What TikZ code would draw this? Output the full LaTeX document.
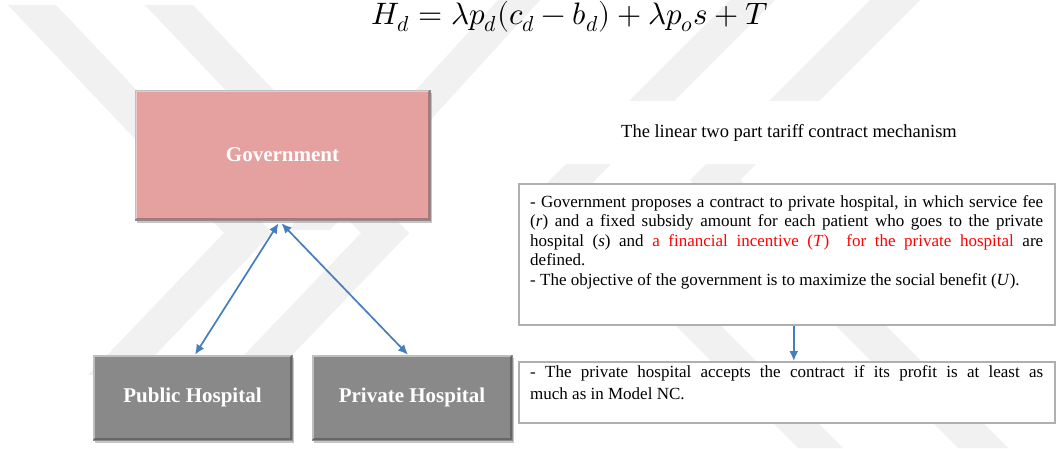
\documentclass[tikz,border=0pt]{standalone}
\usepackage{fontspec}
\setmainfont{Liberation Serif}
\usepackage{unicode-math}
\setmathfont{Latin Modern Math}
\usetikzlibrary{arrows.meta,shadows}

\definecolor{govpink}{RGB}{229,160,160}
\definecolor{hospgray}{RGB}{137,137,137}
\definecolor{linkblue}{RGB}{70,125,190}
\definecolor{framegray}{RGB}{175,175,175}
\definecolor{wmgray}{RGB}{241,241,241}

\tikzset{
  bevelbox/.style={rectangle, draw=black!45, line width=0.6pt,
    drop shadow={shadow xshift=2pt, shadow yshift=-2.5pt, opacity=0.45},
    text=white, inner sep=0pt,
    font=\fontsize{21}{24}\selectfont\bfseries},
  textframe/.style={rectangle, draw=framegray, line width=1.6pt, fill=white,
    anchor=north west, inner sep=0pt},
  bodytext/.style={anchor=north west, inner sep=0pt, align=justify,
    text width=513pt},
  link/.style={draw=linkblue, line width=1.7pt,
    {Latex[length=10pt,width=9pt]}-{Latex[length=10pt,width=9pt]}},
  flow/.style={draw=linkblue, line width=1.7pt, -{Latex[length=10pt,width=9pt]}},
  wmband/.style={fill=wmgray},
}

\begin{document}
\begin{tikzpicture}[x=1pt,y=-1pt]
  \useasboundingbox (0,0) rectangle (1057,448);
  \fill[white] (0,0) rectangle (1057,448);

  % faint chevron watermark behind everything
  \foreach \dx in {0,137}{
    \fill[wmband] (8+\dx,5) -- (56+\dx,5) -- (272+\dx,233) -- (136+\dx,375)
      -- (88+\dx,375) -- (224+\dx,233) -- cycle;
  }
  \foreach \xv/\yv/\w in {540/190/45, 690/180/50}{
    \fill[wmband] (\xv+\yv,0) -- (\xv+\w+\yv,0) -- (\xv+\w,\yv)
      -- (\xv+\w+448-\yv,448) -- (\xv+448-\yv,448) -- (\xv,\yv) -- cycle;
  }
  \fill[wmband] (498,0) -- (540,0) -- (330,230) -- (288,230) -- cycle;

  % formula at the top
  \node[anchor=base, font=\fontsize{31}{36}\selectfont] (eq) at (570,24)
    {$H_d = \lambda p_d(c_d - b_d) + \lambda p_o s + T$};

  % actors
  \node[bevelbox, fill=govpink, minimum width=295pt, minimum height=130pt]
    (gov) at (282.5,155) {Government};
  \node[bevelbox, fill=hospgray, minimum width=199pt, minimum height=85pt]
    (pub) at (192.5,397.5) {Public Hospital};
  \node[bevelbox, fill=hospgray, minimum width=200pt, minimum height=85pt]
    (priv) at (412,397.5) {Private Hospital};

  % bevel highlights on the boxes
  \foreach \b in {gov,pub,priv}{
    \draw[white, opacity=0.45, line width=1.5pt]
      ([xshift=1.5pt,yshift=1.5pt]\b.south west) -- ([xshift=1.5pt,yshift=-1.5pt]\b.north west)
      -- ([xshift=-1.5pt,yshift=-1.5pt]\b.north east);
    \draw[black, opacity=0.25, line width=1.5pt]
      ([xshift=-1.5pt,yshift=-1.5pt]\b.north east) -- ([xshift=-1.5pt,yshift=1.5pt]\b.south east)
      -- ([xshift=1.5pt,yshift=1.5pt]\b.south west);
  }

  % mechanism title
  \node[rectangle, fill=white, anchor=north west, minimum width=536pt,
        minimum height=63pt, inner sep=0pt] (title) at (521,101) {};
  \node[anchor=base, font=\fontsize{18.5}{22}\selectfont] (titletext) at (789,137)
    {The linear two part tariff contract mechanism};

  % contract description
  \node[textframe, minimum width=536pt, minimum height=141pt] (offer) at (518,183) {};
  \node[bodytext, font=\fontsize{17}{19.5}\selectfont] (offertext) at (530,195)
    {- Government proposes a contract to private hospital, in which service fee\linebreak
     (\textit{r}) and a fixed subsidy amount for each patient who goes to the private\linebreak
     hospital (\textit{s}) and \textcolor{red}{a financial incentive (\textit{T})\ \ for the private hospital} are\linebreak
     defined.\\
     - The objective of the government is to maximize the social benefit (\textit{U}).};

  % participation condition
  \node[textframe, minimum width=536pt, minimum height=61pt] (accept) at (518,361) {};
  \node[bodytext, font=\fontsize{17}{22.4}\selectfont] (accepttext) at (530,365)
    {- The private hospital accepts the contract if its profit is at least as\linebreak
     much as in Model NC.};

  % connectors
  \draw[link] ([xshift=-4pt,yshift=-3pt]gov.south) -- ([xshift=2.5pt]pub.north);
  \draw[link] ([xshift=-1pt,yshift=-3pt]gov.south) -- ([xshift=-4pt]priv.north);
  \draw[flow] ([xshift=7pt]offer.south) -- ([xshift=7pt]accept.north);
\end{tikzpicture}
\end{document}
